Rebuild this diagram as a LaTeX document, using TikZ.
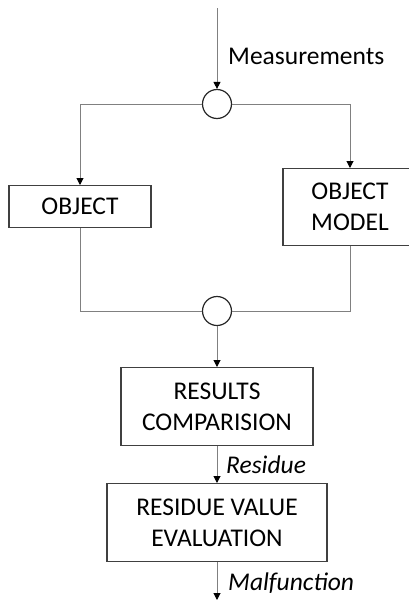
\documentclass[tikz,border=0pt]{standalone}
\usepackage{fontspec}
\setmainfont{Carlito}
\usetikzlibrary{arrows.meta}

\tikzset{
  blok/.style={draw=black!75, line width=1.2pt, align=center, inner sep=0pt,
    font=\fontsize{25.5}{31}\selectfont},
  kring/.style={circle, draw=black!85, line width=1.2pt, minimum size=29pt, inner sep=0pt},
  lijn/.style={draw=black!50, line width=1pt},
  pijl/.style={lijn, -{Triangle[length=7pt,width=7pt,black]}},
  tekst/.style={anchor=west, inner sep=0pt, font=\fontsize{25.5}{30}\selectfont}
}

\begin{document}
\begin{tikzpicture}[x=1pt, y=-1pt]
    \useasboundingbox (0,0) rectangle (408,600);
    \coordinate (in) at (217,8);
    \coordinate (uit) at (217,600);
    \node[kring] (k1) at (217,104) {};
    \node[kring] (k2) at (217,311) {};
    \node[blok, minimum width=142pt, minimum height=42pt, anchor=north] (obj) at (80,185) {OBJECT};
    \node[blok, minimum width=134pt, minimum height=77pt, anchor=north] (mod) at (350,168) {OBJECT\\MODEL};
    \node[blok, minimum width=192pt, minimum height=78pt, anchor=north] (res) at (217,367) {RESULTS\\COMPARISION};
    \node[blok, minimum width=220pt, minimum height=78pt, anchor=north] (eval) at (217,483) {RESIDUE VALUE\\EVALUATION};
    \node[tekst] (meas) at (228,56) {Measurements};
    \node[tekst] (resid) at (226,465) {\itshape Residue};
    \node[tekst] (malf) at (228,583) {\itshape Malfunction};
    \draw[pijl] (in) -- (k1.north);
    \draw[pijl] (k1.west) -| (obj.north);
    \draw[pijl] (k1.east) -| (mod.north);
    \draw[lijn] (obj.south) |- (k2.west);
    \draw[lijn] (mod.south) |- (k2.east);
    \draw[pijl] (k2.south) -- (res.north);
    \draw[pijl] (res.south) -- (eval.north);
    \draw[pijl] (eval.south) -- (uit);
\end{tikzpicture}
\end{document}
